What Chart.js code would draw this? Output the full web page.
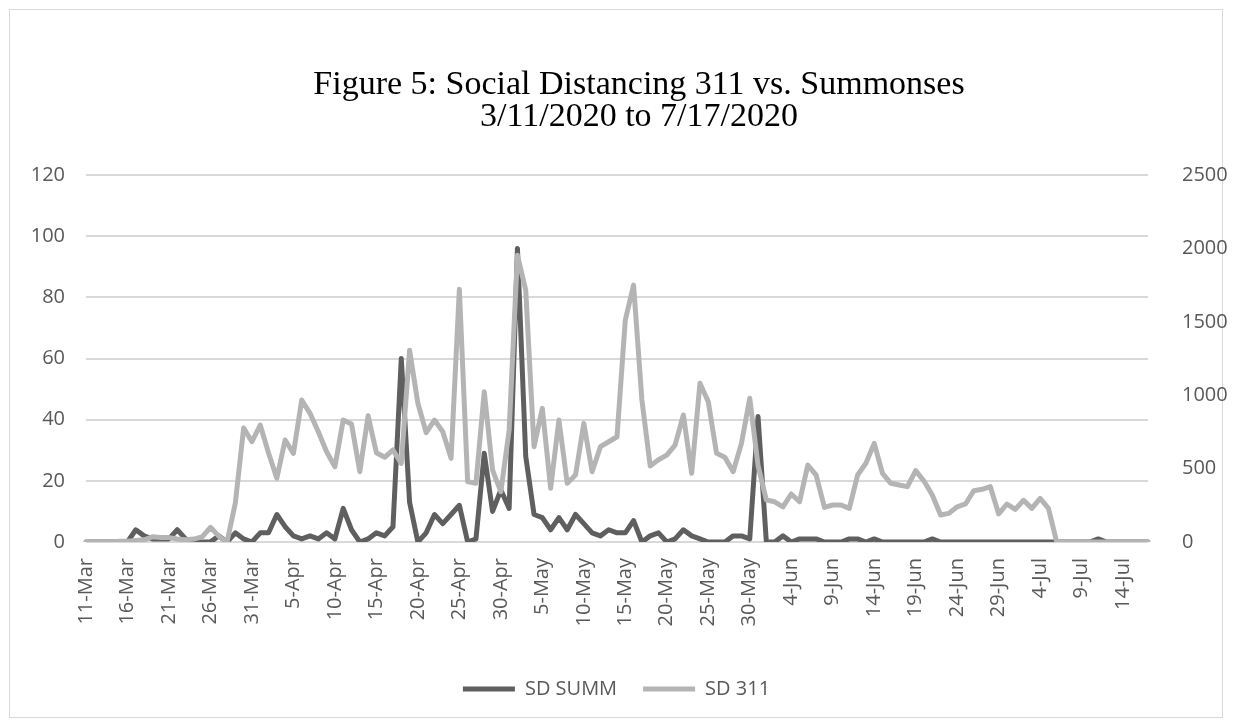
<!DOCTYPE html>
<html lang="en">
<head>
<meta charset="UTF-8">
<title>Figure 5: Social Distancing 311 vs. Summonses</title>
<script src="https://cdn.jsdelivr.net/npm/chart.js"></script>
<style>
    html, body { margin: 0; padding: 0; background: #fff; overflow: hidden; }
    #chart { display: block; }
</style>
</head>
<body>
<canvas id="chart" width="1233" height="728"></canvas>
<script>
// months covered: name, first day, last day
const months = [['Mar', 11, 31], ['Apr', 1, 30], ['May', 1, 31], ['Jun', 1, 30], ['Jul', 1, 17]];

const titleLines = ['Figure 5: Social Distancing 311 vs. Summonses', '3/11/2020 to 7/17/2020'];
const seriesNames = ['SD SUMM', 'SD 311'];

// daily summonses (left axis)
const sdSumm = [
    0, 0, 0, 0, 0, 0, 4, 2, 1, 1,
    1, 4, 1, 0, 0, 0, 2, 0, 3, 1,
    0, 3, 3, 9, 5, 2, 1, 2, 1, 3,
    1, 11, 4, 0, 1, 3, 2, 5, 60, 13,
    0, 3, 9, 6, 9, 12, 0, 1, 29, 10,
    17, 11, 96, 28, 9, 8, 4, 8, 4, 9,
    6, 3, 2, 4, 3, 3, 7, 0, 2, 3,
    0, 1, 4, 2, 1, 0, 0, 0, 2, 2,
    1, 41, 0, 0, 2, 0, 1, 1, 1, 0,
    0, 0, 1, 1, 0, 1, 0, 0, 0, 0,
    0, 0, 1, 0, 0, 0, 0, 0, 0, 0,
    0, 0, 0, 0, 0, 0, 0, 0, 0, 0,
    0, 0, 1, 0, 0, 0, 0, 0, 0
];

// daily 311 social distancing complaints (right axis)
const sd311 = [
    0, 0, 0, 0, 5, 5, 10, 15, 35, 30,
    30, 20, 15, 20, 35, 100, 40, 0, 265, 776,
    683, 797, 606, 434, 695, 604, 967, 876, 751, 615,
    513, 831, 804, 479, 860, 608, 577, 627, 536, 1307,
    945, 745, 831, 751, 570, 1721, 411, 400, 1024, 490,
    343, 763, 1954, 1716, 649, 910, 366, 831, 400, 456,
    808, 479, 649, 683, 717, 1512, 1750, 967, 518, 560,
    592, 660, 865, 468, 1081, 956, 604, 577, 479, 672,
    979, 520, 286, 274, 240, 327, 274, 524, 456, 236,
    252, 252, 229, 456, 536, 672, 468, 400, 388, 377,
    486, 415, 320, 184, 195, 240, 259, 349, 359, 377,
    191, 259, 222, 284, 229, 297, 229, 0, 0, 0,
    0, 0, 0, 0, 0, 0, 0, 0, 0
];

const labels = [];
months.forEach(([m, from, to]) => {
    for (let d = from; d <= to; d++) labels.push(d + '-' + m);
});

const tickFont = { family: '"Open Sans", sans-serif', size: 20 };
const tickColor = '#595959';

const frameAndTitle = {
    id: 'frameAndTitle',
    beforeDraw(chart) {
        const ctx = chart.ctx;
        ctx.save();
        ctx.fillStyle = '#fff';
        ctx.fillRect(0, 0, chart.width, chart.height);
        ctx.strokeStyle = '#d9d9d9';
        ctx.lineWidth = 1;
        ctx.strokeRect(9.5, 9.5, chart.width - 20, chart.height - 20);
        ctx.restore();
    },
    afterDraw(chart) {
        const ctx = chart.ctx;
        ctx.save();
        ctx.font = '34px "Liberation Serif", "Times New Roman", serif';
        ctx.fillStyle = '#000';
        ctx.textAlign = 'center';
        ctx.textBaseline = 'alphabetic';
        titleLines.forEach((t, i) => ctx.fillText(t, 639, 94 + i * 32));
        ctx.restore();
    }
};

new Chart(document.getElementById('chart'), {
    type: 'line',
    data: {
        labels: labels,
        datasets: [{
            label: seriesNames[0],
            data: sdSumm,
            yAxisID: 'y',
            borderColor: '#5f5f5f',
            backgroundColor: '#5f5f5f',
            borderWidth: 5,
            borderCapStyle: 'round',
            borderJoinStyle: 'round',
            pointRadius: 0,
            tension: 0,
            order: 2
        }, {
            label: seriesNames[1],
            data: sd311,
            yAxisID: 'y1',
            borderColor: '#b4b4b4',
            backgroundColor: '#b4b4b4',
            borderWidth: 5,
            borderCapStyle: 'round',
            borderJoinStyle: 'round',
            pointRadius: 0,
            tension: 0,
            order: 1
        }]
    },
    options: {
        responsive: false,
        animation: false,
        layout: { padding: { top: 175, left: 0, right: 0, bottom: 19 } },
        plugins: {
            title: { display: false },
            tooltip: { enabled: false },
            legend: {
                position: 'bottom',
                reverse: true,
                labels: {
                    usePointStyle: true,
                    pointStyle: 'line',
                    pointStyleWidth: 52,
                    padding: 26,
                    color: tickColor,
                    font: tickFont
                }
            }
        },
        scales: {
            x: {
                grid: { display: false },
                border: { display: false },
                offset: false,
                ticks: {
                    autoSkip: false,
                    minRotation: 90,
                    maxRotation: 90,
                    padding: 8,
                    color: tickColor,
                    font: tickFont,
                    callback: (v, i) => (i % 5 === 0 ? labels[i] : null)
                },
                afterFit: s => { s.height = 111; }
            },
            y: {
                position: 'left',
                min: 0,
                max: 120,
                ticks: { stepSize: 20, padding: 21, color: tickColor, font: tickFont },
                grid: { color: '#d9d9d9', lineWidth: 2, drawTicks: false },
                border: { display: false },
                afterFit: s => { s.width = 86; }
            },
            y1: {
                position: 'right',
                min: 0,
                max: 2500,
                ticks: {
                    stepSize: 500,
                    padding: 34,
                    color: tickColor,
                    font: tickFont,
                    callback: v => String(v)
                },
                grid: { display: false, drawTicks: false },
                border: { display: false },
                afterFit: s => { s.width = 85; }
            }
        }
    },
    plugins: [frameAndTitle]
});
</script>
</body>
</html>
